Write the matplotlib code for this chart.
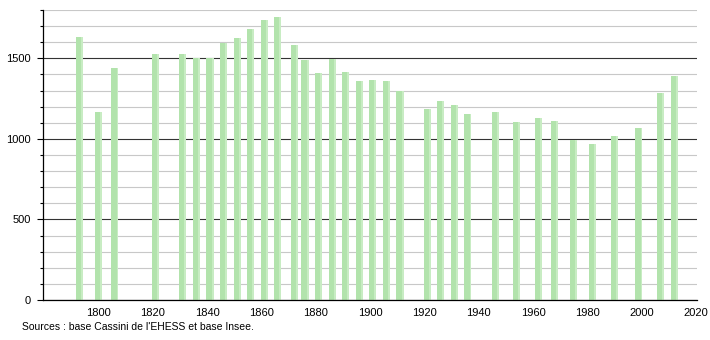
import matplotlib.pyplot as plt
import matplotlib.ticker as mticker

YEARS = [1793, 1800, 1806, 1821, 1831, 1836, 1841, 1846, 1851, 1856, 1861, 1866,
         1872, 1876, 1881, 1886, 1891, 1896, 1901, 1906, 1911, 1921, 1926, 1931,
         1936, 1946, 1954, 1962, 1968, 1975, 1982, 1990, 1999, 2007, 2012]
POPULATION = [1633, 1165, 1440, 1524, 1529, 1502, 1500, 1593, 1627, 1679, 1739, 1758,
              1585, 1491, 1410, 1498, 1418, 1360, 1368, 1360, 1300, 1186, 1234, 1210,
              1154, 1165, 1102, 1127, 1109, 992, 967, 1017, 1067, 1287, 1393]
X_TICKS = list(range(1800, 2021, 20))
Y_TICKS = [0, 500, 1000, 1500]
SOURCE = "Sources : base Cassini de l'EHESS et base Insee."

plt.rcParams["font.family"] = ["Liberation Sans", "DejaVu Sans"]

fig = plt.figure(figsize=(7.1, 3.4), dpi=100)
ax = fig.add_axes([0.0606, 0.1176, 0.9211, 0.853])

ax.bar(YEARS, POPULATION, width=2.6, color="#b2e3ac", edgecolor="none", zorder=2)
# softer right edge of each bar
ax.bar([y + 0.95 for y in YEARS], POPULATION, width=0.7, color="#c8ecc3",
       edgecolor="none", zorder=2)

ax.set_xlim(1779.5, 2020.4)
ax.set_ylim(0, 1800)

ax.set_xticks(X_TICKS)
ax.set_yticks(Y_TICKS)
ax.yaxis.set_minor_locator(mticker.MultipleLocator(100))
ax.grid(True, which="minor", axis="y", color="#c8c8c8", linewidth=0.8, zorder=0)
ax.grid(True, which="major", axis="y", color="#333333", linewidth=0.8, zorder=1)
ax.set_axisbelow(True)

ax.tick_params(axis="x", length=0, labelsize=8, pad=6)
ax.tick_params(axis="y", which="major", length=4, width=0.8, labelsize=8, pad=5)
ax.tick_params(axis="y", which="minor", length=2, width=0.8)

for s in ("top", "right"):
    ax.spines[s].set_visible(False)
ax.spines["left"].set_linewidth(0.9)
ax.spines["bottom"].set_linewidth(0.9)

fig.text(0.031, 0.038, SOURCE, fontsize=7.5, ha="left", va="center")

fig.savefig("out.png", dpi=100)
